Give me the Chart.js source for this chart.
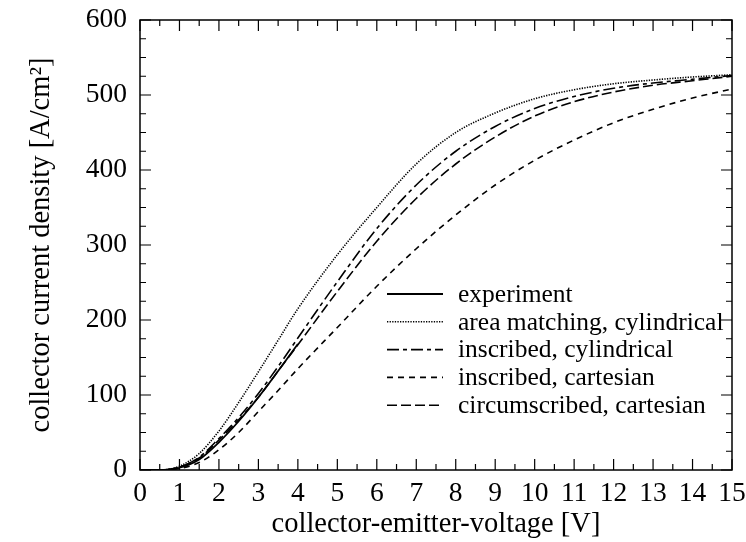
<!DOCTYPE html>
<html>
<head>
<meta charset="utf-8">
<script src="https://cdn.jsdelivr.net/npm/chart.js@4/dist/chart.umd.min.js"></script>
<style>
  html, body { margin: 0; padding: 0; background: #fff; }
  #wrap { width: 746px; height: 542px; }
</style>
</head>
<body>
<div id="wrap"><canvas id="myChart" width="746" height="542"></canvas></div>
<script>
// collector-emitter voltage [V]
var voltage = [0, 0.5, 1, 1.5, 2, 2.5, 3, 3.5, 4, 5, 6, 7, 8, 9, 10, 11, 12, 13, 14, 15];
var voltageExp = [0, 0.5, 1, 1.5, 2, 2.5, 3, 3.5, 4];

// collector current density [A/cm2]
var experiment        = [0, 0, 3, 14, 37, 65, 97, 132, 168];
var areaMatchingCyl   = [0, 0, 5, 22, 52, 90, 131, 173, 215, 287, 350, 408, 450, 476, 495, 507, 515, 520, 524, 527];
var inscribedCyl      = [0, 0, 4, 17, 42, 70, 102, 138, 176, 251, 322, 380, 425, 458, 482, 498, 509, 516, 521, 526];
var inscribedCart     = [0, 0, 2, 10, 27, 50, 78, 106, 135, 190, 245, 295, 340, 380, 413, 440, 463, 481, 496, 508];
var circumscribedCart = [0, 0, 4, 16, 40, 67, 97, 132, 167, 238, 305, 362, 408, 444, 472, 491, 504, 513, 519, 525];

var seriesNames = ['experiment', 'area matching, cylindrical', 'inscribed, cylindrical',
                   'inscribed, cartesian', 'circumscribed, cartesian'];

var xTicks = [0, 1, 2, 3, 4, 5, 6, 7, 8, 9, 10, 11, 12, 13, 14, 15];
var yTicks = [0, 100, 200, 300, 400, 500, 600];

var FONT = "'Liberation Serif', 'Times New Roman', serif";

function pts(xs, ys) {
  return ys.map(function(y, i){ return {x: xs[i], y: y}; });
}

function series(label, xs, ys, dash, width) {
  return {
    label: label,
    data: pts(xs, ys),
    borderColor: '#000',
    borderWidth: width || 1.6,
    borderDash: dash,
    pointRadius: 0,
    fill: false,
    cubicInterpolationMode: 'monotone'
  };
}

// box round the plot with inward ticks on all four sides
var frameTicks = {
  id: 'frameTicks',
  afterDatasetsDraw: function(chart) {
    var ctx = chart.ctx, a = chart.chartArea;
    var xs = chart.scales.x, ys = chart.scales.y;
    ctx.save();
    ctx.strokeStyle = '#000';
    ctx.lineWidth = 1.5;
    ctx.setLineDash([]);
    ctx.strokeRect(a.left, a.top, a.right - a.left, a.bottom - a.top);
    ctx.lineWidth = 1.2;
    ctx.beginPath();
    for (var v = 0; v <= 15; v += 0.5) {
      var px = xs.getPixelForValue(v);
      var len = (v % 1 === 0) ? 11 : 6;
      ctx.moveTo(px, a.bottom); ctx.lineTo(px, a.bottom - len);
      ctx.moveTo(px, a.top);    ctx.lineTo(px, a.top + len);
    }
    for (var j = 0; j <= 600; j += 25) {
      var py = ys.getPixelForValue(j);
      var l2 = (j % 100 === 0) ? 11 : 6;
      ctx.moveTo(a.left, py);  ctx.lineTo(a.left + l2, py);
      ctx.moveTo(a.right, py); ctx.lineTo(a.right - l2, py);
    }
    ctx.stroke();
    ctx.restore();
  }
};

// legend in the lower right of the plot
var lineLegend = {
  id: 'lineLegend',
  afterDatasetsDraw: function(chart) {
    var ctx = chart.ctx;
    ctx.save();
    ctx.font = '25.5px ' + FONT;
    ctx.fillStyle = '#000';
    ctx.textBaseline = 'middle';
    chart.data.datasets.forEach(function(ds, i) {
      var y = 294 + i * 27.8;
      ctx.strokeStyle = '#000';
      ctx.lineWidth = ds.borderWidth;
      ctx.setLineDash(ds.borderDash || []);
      ctx.beginPath();
      ctx.moveTo(387, y);
      ctx.lineTo(443, y);
      ctx.stroke();
      ctx.fillText(ds.label, 458, y + 1);
    });
    ctx.restore();
  }
};

var ctx = document.getElementById('myChart').getContext('2d');
var myChart = new Chart(ctx, {
  type: 'line',
  data: {
    datasets: [
      series(seriesNames[0], voltageExp, experiment, [], 1.8),
      series(seriesNames[1], voltage, areaMatchingCyl, [1.3, 1.3], 1.6),
      series(seriesNames[2], voltage, inscribedCyl, [12, 4, 4, 4]),
      series(seriesNames[3], voltage, inscribedCart, [6, 5]),
      series(seriesNames[4], voltage, circumscribedCart, [10, 4])
    ]
  },
  options: {
    responsive: false,
    animation: false,
    layout: { padding: { left: 0, top: 20, right: 14, bottom: 0 } },
    plugins: {
      legend: { display: false },
      tooltip: { enabled: false }
    },
    scales: {
      x: {
        type: 'linear',
        min: 0, max: 15,
        afterBuildTicks: function(scale) {
          scale.ticks = xTicks.map(function(v){ return {value: v}; });
        },
        afterFit: function(scale) {
          scale.height = 72;
          scale.paddingLeft = 0; scale.paddingRight = 0;
        },
        grid: { display: false, drawTicks: false },
        border: { display: false },
        ticks: {
          color: '#000', font: { family: FONT, size: 27.5 },
          padding: 7, maxRotation: 0, autoSkip: false
        },
        title: {
          display: true, text: 'collector-emitter-voltage [V]',
          color: '#000', font: { family: FONT, size: 28.5 },
          padding: { top: -4, bottom: 0 }
        }
      },
      y: {
        type: 'linear',
        min: 0, max: 600,
        afterBuildTicks: function(scale) {
          scale.ticks = yTicks.map(function(v){ return {value: v}; });
        },
        afterFit: function(scale) {
          scale.width = 140;
          scale.paddingTop = 0; scale.paddingBottom = 0;
        },
        grid: { display: false, drawTicks: false },
        border: { display: false },
        ticks: {
          color: '#000', font: { family: FONT, size: 27.5 },
          padding: 13
        },
        title: {
          display: true, text: 'collector current density [A/cm\u00B2]',
          color: '#000', font: { family: FONT, size: 28.5 },
          padding: { top: 24, bottom: 0 }
        }
      }
    }
  },
  plugins: [frameTicks, lineLegend]
});
</script>
</body>
</html>
